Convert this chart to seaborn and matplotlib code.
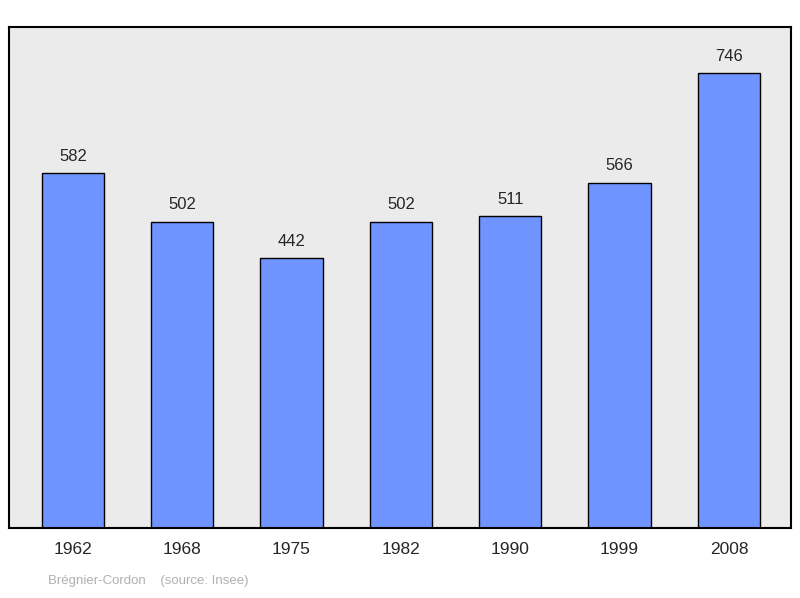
import matplotlib
matplotlib.use("Agg")
import matplotlib.pyplot as plt
import seaborn as sns

years = ["1962", "1968", "1975", "1982", "1990", "1999", "2008"]
population = [582, 502, 442, 502, 511, 566, 746]

sns.set_style("white")
plt.rcParams['font.family'] = ['Liberation Sans', 'DejaVu Sans']

fig = plt.figure(figsize=(8, 5.98), dpi=100)
ax = fig.add_axes([0.011, 0.117, 0.978, 0.838])
ax.set_facecolor("#ebebeb")

sns.barplot(x=years, y=population, ax=ax, color="#7094ff", saturation=1,
            width=0.57, edgecolor="black", linewidth=1)

for i, v in enumerate(population):
    ax.text(i, v + 15, str(v), ha="center", va="bottom", fontsize=12)

ax.set_xlim(-0.586, 6.57)
ax.set_ylim(0, 821)
ax.set_yticks([])
ax.tick_params(axis="x", labelsize=12.5, length=0, pad=10)
for s in ax.spines.values():
    s.set_linewidth(1.5)
    s.set_color("black")

fig.text(0.06, 0.023, "Brégnier-Cordon    (source: Insee)", color="#b0b0b0", fontsize=9.5)

fig.savefig("out.png", dpi=100)
